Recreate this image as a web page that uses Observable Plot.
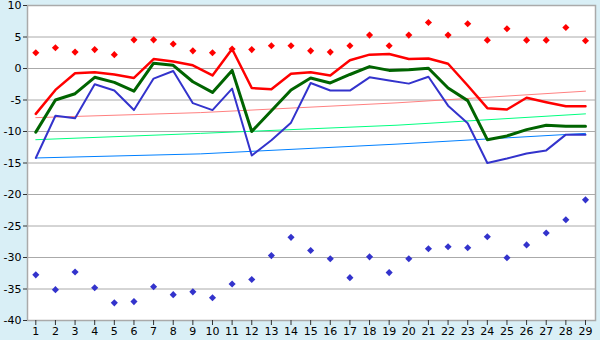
<!DOCTYPE html>
<html>
<head>
<meta charset="utf-8">
<script src="https://cdn.jsdelivr.net/npm/d3@7"></script>
<script src="https://cdn.jsdelivr.net/npm/@observablehq/plot@0.6"></script>
<style>
  html, body { margin: 0; padding: 0; background: #d9eff6; }
  #chart { width: 600px; height: 340px; }
  #chart svg { overflow: visible; }
</style>
</head>
<body>
<div id="chart"></div>
<script>
const days = d3.range(1, 30);
const recordMax = [2.5, 3.3, 2.6, 3.0, 2.2, 4.55, 4.55, 3.9, 2.8, 2.5, 3.1, 3.0, 3.6, 3.6, 2.8, 2.6, 3.6, 5.3, 3.6, 5.3, 7.3, 5.3, 7.1, 4.5, 6.3, 4.5, 4.5, 6.5, 4.4];
const dailyMax = [-7.2, -3.4, -0.75, -0.6, -0.95, -1.5, 1.5, 1.1, 0.5, -1.1, 3.1, -3.1, -3.3, -0.85, -0.6, -1.1, 1.3, 2.2, 2.3, 1.5, 1.6, 0.75, -2.7, -6.3, -6.5, -4.65, -5.35, -6.0, -6.0];
const dailyMean = [-10.1, -5.0, -4.0, -1.4, -2.2, -3.6, 0.85, 0.5, -2.1, -3.8, -0.3, -10.0, -6.7, -3.4, -1.5, -2.3, -0.95, 0.3, -0.3, -0.2, 0.05, -3.1, -5.1, -11.3, -10.7, -9.7, -9.0, -9.15, -9.15];
const dailyMin = [-14.2, -7.5, -7.9, -2.5, -3.5, -6.6, -1.6, -0.4, -5.5, -6.6, -3.2, -13.8, -11.4, -8.6, -2.3, -3.5, -3.5, -1.4, -1.9, -2.4, -1.3, -5.9, -8.7, -15.0, -14.3, -13.5, -13.0, -10.5, -10.5];
const recordMin = [-32.75, -35.1, -32.3, -34.8, -37.2, -37.0, -34.65, -35.9, -35.45, -36.4, -34.2, -33.5, -29.7, -26.8, -28.9, -30.2, -33.2, -29.9, -32.4, -30.2, -28.6, -28.3, -28.45, -26.7, -30.05, -28.0, -26.1, -24.0, -20.85];
const normDays = [1, 9.4, 19.4, 29];
const normMax = [-7.8, -7.0, -5.45, -3.6];
const normMean = [-11.3, -10.3, -9.0, -7.2];
const normMin = [-14.2, -13.55, -12.0, -10.3];
const yTicks = [-40, -35, -30, -25, -20, -15, -10, -5, 0, 5, 10];

const series = (ys, xs = days) => xs.map((x, i) => ({x, y: ys[i]}));

const chart = Plot.plot({
  width: 600,
  height: 340,
  marginLeft: 27,
  marginRight: 5,
  marginTop: 5,
  marginBottom: 20,
  style: {background: "#d9eff6", fontFamily: "DejaVu Sans, sans-serif", fontSize: "11px", color: "black", overflow: "visible"},
  x: {domain: [0.577, 29.51], label: null},
  y: {domain: [-40, 10], label: null},
  marks: [
    Plot.frame({fill: "white", stroke: "none"}),
    Plot.gridY(yTicks, {stroke: "#aaa", strokeOpacity: 1, strokeWidth: 1}),
    Plot.frame({stroke: "#aaa", strokeWidth: 1.5}),
    Plot.axisX({ticks: days, tickSize: 5, tickPadding: 2, stroke: "#333", tickFormat: d => String(d), fill: "black"}),
    Plot.axisY({ticks: yTicks, tickSize: 4, tickPadding: 2, stroke: "#333", fill: "black", tickFormat: d => String(d)}),
    Plot.line(series(normMax, normDays), {x: "x", y: "y", stroke: "#ff8080", strokeWidth: 1}),
    Plot.line(series(normMean, normDays), {x: "x", y: "y", stroke: "#00ff80", strokeWidth: 1}),
    Plot.line(series(normMin, normDays), {x: "x", y: "y", stroke: "#0080ff", strokeWidth: 1}),
    Plot.line(series(dailyMin), {x: "x", y: "y", stroke: "#3333cc", strokeWidth: 2}),
    Plot.line(series(dailyMean), {x: "x", y: "y", stroke: "#006400", strokeWidth: 3}),
    Plot.line(series(dailyMax), {x: "x", y: "y", stroke: "#ff0000", strokeWidth: 2.5}),
    Plot.dot(series(recordMax), {x: "x", y: "y", symbol: "diamond2", r: 3.2, fill: "#ff0000", stroke: "none"}),
    Plot.dot(series(recordMin), {x: "x", y: "y", symbol: "diamond2", r: 3.2, fill: "#3333cc", stroke: "none"})
  ]
});
document.getElementById("chart").append(chart);
</script>
</body>
</html>
